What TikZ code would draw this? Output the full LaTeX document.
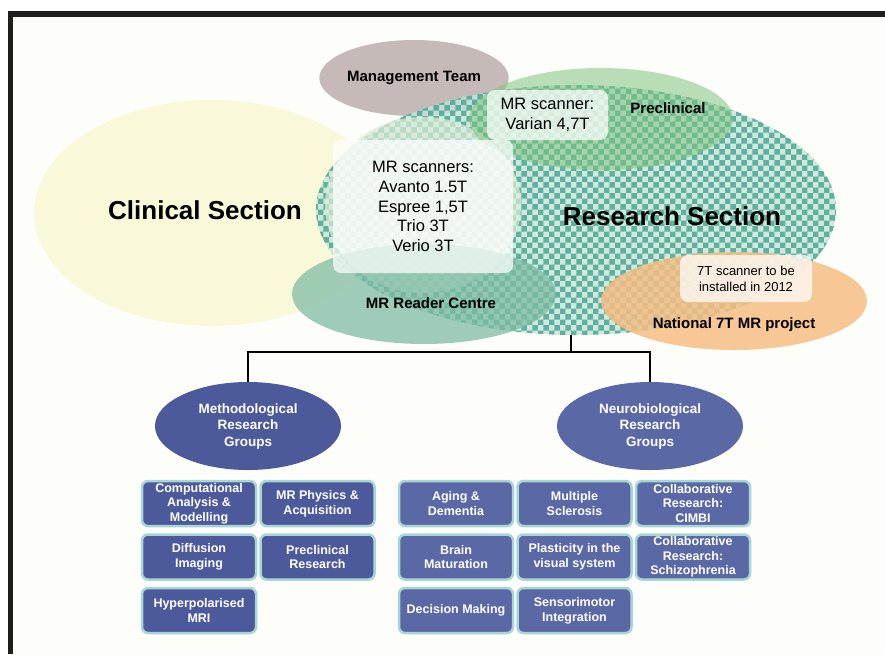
\documentclass[tikz,border=0pt]{standalone}
\usepackage{fontspec}
\setmainfont{Liberation Sans}
\usepackage{tikz}
\usetikzlibrary{shapes,positioning,patterns}
\definecolor{framegray}{RGB}{30,30,30}
\definecolor{paper}{RGB}{253,253,250}
\definecolor{clinyellow}{RGB}{249,249,218}
\definecolor{mgmtgray}{RGB}{197,186,184}
\definecolor{resteal}{RGB}{58,158,138}
\definecolor{reslight}{RGB}{196,228,216}
\definecolor{scanpale}{RGB}{222,237,216}
\definecolor{pregreen}{RGB}{128,196,128}
\definecolor{readerteal}{RGB}{128,188,164}
\definecolor{natorange}{RGB}{246,190,132}
\definecolor{methblue}{RGB}{76,89,155}
\definecolor{neuroblue}{RGB}{90,104,166}
\definecolor{boxedge}{RGB}{168,214,212}

\begin{document}
\begin{tikzpicture}[
    x=1pt, y=-1pt,
    blob/.style={ellipse, inner sep=0pt},
    tag/.style={font=\fontsize{15}{18}\selectfont\bfseries},
    heading/.style={font=\fontsize{26}{31}\selectfont\bfseries},
    infobox/.style={rectangle, rounded corners=8pt, fill=white, fill opacity=0.72, text opacity=1, align=center},
    groupblob/.style={ellipse, fill=#1, minimum width=186pt, minimum height=88pt, text=white, align=center, font=\fontsize{13.5}{16.5}\selectfont\bfseries},
    topic/.style={rectangle, rounded corners=6pt, draw=boxedge, line width=2.5pt, fill=#1, minimum width=114pt, minimum height=45pt, inner sep=1pt, text=white, align=center, font=\fontsize{12.5}{14.7}\selectfont\bfseries},
    tree/.style={line width=2pt}
]
    \fill[white] (0,0) rectangle (885,654);
    \fill[paper] (13,17) rectangle (885,654);
    \fill[framegray] (8,11) rectangle (885,17);
    \fill[framegray] (8,11) rectangle (13,654);

    \node[blob, fill=clinyellow, minimum width=356pt, minimum height=226pt] (clinical) at (212,213) {};
    \node[blob, fill=mgmtgray, minimum width=172pt, minimum height=76pt, tag] (mgmt) at (414,78) {Management Team};
    \node[blob, fill=reslight, fill opacity=0.8, minimum width=520pt, minimum height=250pt,
          postaction={pattern=checkerboard, pattern color=resteal, fill opacity=0.75}] (research) at (576,210) {};
    \node[blob, fill=scanpale, fill opacity=0.7, minimum width=196pt, minimum height=176pt] (scanblob) at (423,205) {};
    \node[blob, fill=pregreen, fill opacity=0.55, minimum width=264pt, minimum height=102pt] (preclinical) at (601,119) {};
    \node[blob, fill=readerteal, fill opacity=0.75, minimum width=264pt, minimum height=100pt] (reader) at (424,294) {};
    \node[blob, fill=natorange, fill opacity=0.85, minimum width=266pt, minimum height=98pt] (national) at (734,301) {};

    \node[infobox, minimum width=121pt, minimum height=50pt, font=\fontsize{16.5}{20}\selectfont] (varian) at (547.5,115) {MR scanner:\\Varian 4,7T};
    \node[infobox, minimum width=180pt, minimum height=133pt, font=\fontsize{16.5}{19.7}\selectfont] (scanners) at (423,206.5) {MR scanners:\\Avanto 1.5T\\Espree 1,5T\\Trio 3T\\Verio 3T};
    \node[infobox, minimum width=132pt, minimum height=47pt, font=\fontsize{13}{15.7}\selectfont] (seventesla) at (746,278.5) {7T scanner to be\\installed in 2012};

    \node[heading] (cliniclabel) at (205,210) {Clinical Section};
    \node[heading] (reslabel) at (672,216) {Research Section};
    \node[tag] (prelabel) at (668,108) {Preclinical};
    \node[tag] (readerlabel) at (431,303) {MR Reader Centre};
    \node[tag] (natlabel) at (734,325) {National 7T MR project};

    \node[groupblob=methblue] (method) at (248,426) {Methodological\\Research\\Groups};
    \node[groupblob=neuroblue] (neuro) at (650,426) {Neurobiological\\Research\\Groups};

    \draw[tree] ([xshift=-5pt]research.south) -- ++(0,17) coordinate (fork);
    \draw[tree] (method.north) |- (fork) -| (neuro.north);

    \node[topic=methblue] (comp) at (199,503.5) {Computational\\Analysis \&\\Modelling};
    \node[topic=methblue, right=2pt of comp] (physics) {MR Physics \&\\Acquisition};
    \node[topic=methblue, below=6pt of comp] (diffusion) {Diffusion\\Imaging};
    \node[topic=methblue, right=2pt of diffusion] (preres) {Preclinical\\Research};
    \node[topic=methblue, below=6pt of diffusion] (hyper) {Hyperpolarised\\MRI};

    \node[topic=neuroblue] (aging) at (456,503.5) {Aging \&\\Dementia};
    \node[topic=neuroblue, right=2pt of aging] (sclerosis) {Multiple\\Sclerosis};
    \node[topic=neuroblue, right=2pt of sclerosis] (cimbi) {Collaborative\\Research:\\CIMBI};
    \node[topic=neuroblue, below=6pt of aging] (brain) {Brain\\Maturation};
    \node[topic=neuroblue, right=2pt of brain] (plasticity) {Plasticity in the\\visual system};
    \node[topic=neuroblue, right=2pt of plasticity] (schizo) {Collaborative\\Research:\\Schizophrenia};
    \node[topic=neuroblue, below=6pt of brain] (decision) {Decision Making};
    \node[topic=neuroblue, right=2pt of decision] (sensori) {Sensorimotor\\Integration};
\end{tikzpicture}
\end{document}
